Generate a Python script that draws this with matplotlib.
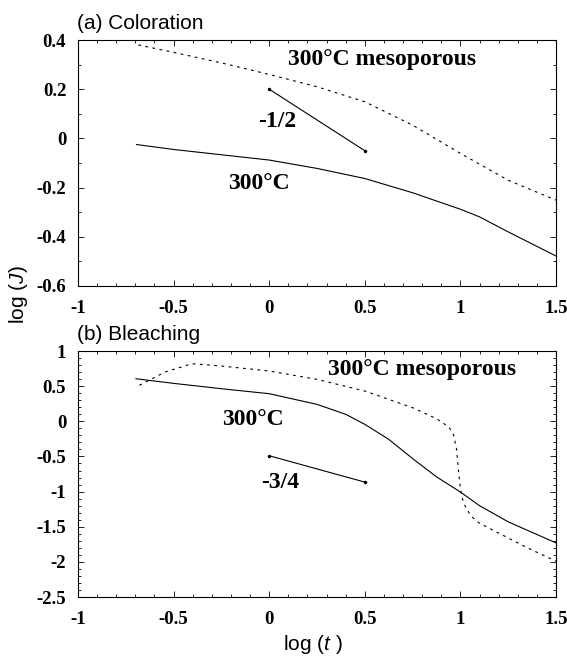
import matplotlib
matplotlib.use("Agg")
import matplotlib.pyplot as plt
from matplotlib.ticker import MultipleLocator

plt.rcParams['mathtext.fontset'] = 'custom'
plt.rcParams['mathtext.rm'] = 'Liberation Sans'
plt.rcParams['mathtext.it'] = 'Liberation Sans:italic'

# (a) Coloration
col_t_300 = [-0.694, -0.5, 0.0, 0.25, 0.5, 0.75, 1.0, 1.1, 1.25, 1.5]
col_j_300 = [-0.025, -0.045, -0.088, -0.122, -0.163, -0.221, -0.288, -0.319, -0.38, -0.478]
col_t_meso = [-0.685, -0.5, -0.25, 0.0, 0.25, 0.5, 0.75, 1.0, 1.25, 1.5]
col_j_meso = [0.38, 0.35, 0.307, 0.26, 0.21, 0.149, 0.054, -0.061, -0.17, -0.251]
col_slope_t = [0.0, 0.5]
col_slope_j = [0.2, -0.05]

# (b) Bleaching
ble_t_300 = [-0.697, -0.5, -0.25, 0.0, 0.25, 0.4, 0.5, 0.625, 0.75, 0.875, 1.0, 1.1, 1.25, 1.5]
ble_j_300 = [0.606, 0.54, 0.464, 0.393, 0.241, 0.10, -0.043, -0.256, -0.53, -0.79, -1.006, -1.2, -1.43, -1.73]
ble_t_meso = [-0.679, -0.546, -0.404, -0.25, 0.0, 0.25, 0.5, 0.75, 0.875, 0.94, 0.965, 0.98,
              0.99, 1.0, 1.01, 1.03, 1.06, 1.1, 1.15, 1.25, 1.35, 1.5]
ble_j_meso = [0.512, 0.70, 0.82, 0.787, 0.716, 0.597, 0.431, 0.194, 0.037, -0.08, -0.2, -0.4,
              -0.7, -0.95, -1.1, -1.24, -1.36, -1.45, -1.52, -1.66, -1.80, -1.99]
ble_slope_t = [0.0, 0.5]
ble_slope_j = [-0.49, -0.865]

serif_bold = dict(family='Liberation Serif', weight='bold')
dotted = (0, (2.5, 4))

fig = plt.figure(figsize=(5.67, 6.57), dpi=100)
ax_a = fig.add_axes([0.1376, 0.5647, 0.843, 0.3744])
ax_b = fig.add_axes([0.1376, 0.0913, 0.843, 0.3744])


def style_axis(ax, ylim, ymajor):
    ax.set_xlim(-1, 1.5)
    ax.set_ylim(*ylim)
    ax.xaxis.set_major_locator(MultipleLocator(0.5))
    ax.xaxis.set_minor_locator(MultipleLocator(0.1))
    ax.yaxis.set_major_locator(MultipleLocator(ymajor))
    ax.yaxis.set_minor_locator(MultipleLocator(0.1))
    ax.tick_params(which='both', direction='in', top=True, right=True, width=0.6)
    ax.tick_params(which='major', length=4.5)
    ax.tick_params(which='minor', length=2.2)
    ax.tick_params(axis='x', which='major', pad=10)
    ax.tick_params(axis='y', which='major', pad=8.5)
    for lab in ax.get_xticklabels() + ax.get_yticklabels():
        lab.set_fontfamily('Liberation Serif')
        lab.set_fontweight('bold')
        lab.set_fontsize(13.5)
    for s in ax.spines.values():
        s.set_linewidth(0.8)
    ax.xaxis.set_major_formatter(plt.FuncFormatter(lambda v, p: f"{v:g}"))
    ax.yaxis.set_major_formatter(plt.FuncFormatter(lambda v, p: f"{v:g}"))


style_axis(ax_a, (-0.6, 0.4), 0.2)
style_axis(ax_b, (-2.5, 1.0), 0.5)

# panel (a)
ax_a.plot(col_t_300, col_j_300, color='black', lw=0.8)
ax_a.plot(col_t_meso, col_j_meso, color='black', lw=0.8, linestyle=dotted)
ax_a.plot(col_slope_t, col_slope_j, color='black', lw=0.8, marker='o', markersize=1.5)
ax_a.text(0.099, 0.319, '300°C mesoporous', fontsize=17, ha='left', va='center', **serif_bold)
ax_a.text(-0.056, 0.068, '-1/2', fontsize=17, ha='left', va='center', **serif_bold)
ax_a.text(-0.213, -0.183, '300°C', fontsize=17, ha='left', va='center', **serif_bold)
ax_a.text(-0.003, 1.045, '(a) Coloration', transform=ax_a.transAxes, fontsize=15,
          family='Liberation Sans', ha='left', va='baseline')

# panel (b)
ax_b.plot(ble_t_300, ble_j_300, color='black', lw=0.8)
ax_b.plot(ble_t_meso, ble_j_meso, color='black', lw=0.8, linestyle=dotted)
ax_b.plot(ble_slope_t, ble_slope_j, color='black', lw=0.8, marker='o', markersize=1.5)
ax_b.text(0.305, 0.739, '300°C mesoporous', fontsize=17, ha='left', va='center', **serif_bold)
ax_b.text(-0.247, 0.028, '300°C', fontsize=17, ha='left', va='center', **serif_bold)
ax_b.text(-0.041, -0.873, '-3/4', fontsize=17, ha='left', va='center', **serif_bold)
ax_b.text(-0.003, 1.045, '(b) Bleaching', transform=ax_b.transAxes, fontsize=15,
          family='Liberation Sans', ha='left', va='baseline')

# shared axis labels
fig.text(0.033, 0.551, r'log ($J$)', rotation=90, fontsize=15, family='Liberation Sans',
         ha='center', va='center')
fig.text(0.551, 0.011, r'log ($t$ )', fontsize=15, family='Liberation Sans',
         ha='center', va='baseline')

fig.savefig('out.png', dpi=100)
